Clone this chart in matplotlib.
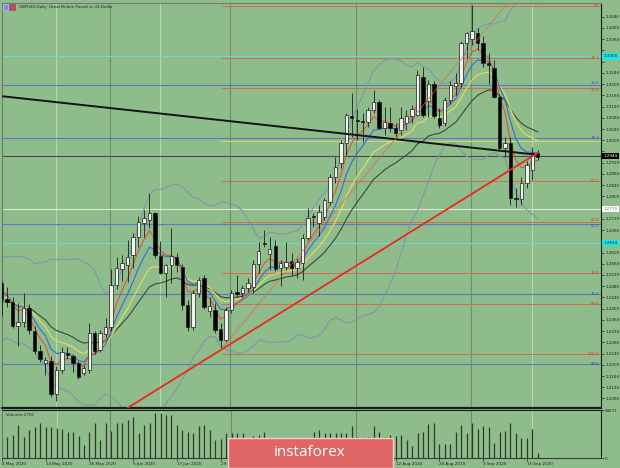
import matplotlib
matplotlib.use("Agg")
import matplotlib.pyplot as plt
import numpy as np
import pandas as pd
from matplotlib.patches import Rectangle
from matplotlib.transforms import blended_transform_factory

# GBPUSD daily, 4 May 2020 .. 17 Sep 2020
open_ = [1.2490, 1.2433, 1.2424, 1.2339, 1.2352, 1.2404, 1.2322, 1.2248, 1.2207, 1.2214,
         1.2096, 1.2182, 1.2241, 1.2230, 1.2207, 1.2172, 1.2180, 1.2315, 1.2253, 1.2310,
         1.2335, 1.2485, 1.2540, 1.2556, 1.2590, 1.2656, 1.2705, 1.2716, 1.2741, 1.2588,
         1.2527, 1.2556, 1.2584, 1.2548, 1.2413, 1.2335, 1.2456, 1.2509, 1.2390, 1.2395,
         1.2328, 1.2289, 1.2395, 1.2460, 1.2456, 1.2474, 1.2478, 1.2560, 1.2634, 1.2595,
         1.2624, 1.2545, 1.2549, 1.2570, 1.2545, 1.2563, 1.2652, 1.2730, 1.2705, 1.2727,
         1.2780, 1.2869, 1.2919, 1.2990, 1.3085, 1.3072, 1.3068, 1.3065, 1.3108, 1.3136,
         1.3044, 1.3061, 1.3044, 1.3035, 1.3061, 1.3086, 1.3090, 1.3226, 1.3140, 1.3200,
         1.3080, 1.3060, 1.3144, 1.3195, 1.3204, 1.3347, 1.3360, 1.3382, 1.3347, 1.3275,
         1.3258, 1.3154, 1.2972, 1.2990, 1.2793, 1.2790, 1.2848, 1.2895, 1.2955]
high = [1.2498, 1.2476, 1.2440, 1.2420, 1.2455, 1.2415, 1.2338, 1.2270, 1.2228, 1.2230,
        1.2195, 1.2262, 1.2262, 1.2240, 1.2215, 1.2200, 1.2350, 1.2320, 1.2325, 1.2367,
        1.2540, 1.2585, 1.2590, 1.2645, 1.2670, 1.2730, 1.2752, 1.2812, 1.2745, 1.2640,
        1.2560, 1.2688, 1.2600, 1.2560, 1.2430, 1.2467, 1.2512, 1.2520, 1.2440, 1.2420,
        1.2350, 1.2405, 1.2467, 1.2520, 1.2485, 1.2510, 1.2573, 1.2638, 1.2680, 1.2655,
        1.2645, 1.2573, 1.2638, 1.2600, 1.2580, 1.2665, 1.2759, 1.2741, 1.2770, 1.2795,
        1.2880, 1.2940, 1.3000, 1.3097, 1.3170, 1.3110, 1.3097, 1.3118, 1.3179, 1.3145,
        1.3118, 1.3118, 1.3060, 1.3118, 1.3107, 1.3125, 1.3250, 1.3262, 1.3215, 1.3210,
        1.3115, 1.3155, 1.3210, 1.3240, 1.3355, 1.3385, 1.3482, 1.3400, 1.3370, 1.3310,
        1.3285, 1.3165, 1.3012, 1.3010, 1.2830, 1.2870, 1.2925, 1.2975, 1.2965]
low = [1.2375, 1.2405, 1.2330, 1.2266, 1.2335, 1.2310, 1.2240, 1.2210, 1.2164, 1.2085,
       1.2072, 1.2171, 1.2220, 1.2175, 1.2150, 1.2165, 1.2172, 1.2240, 1.2245, 1.2300,
       1.2320, 1.2470, 1.2500, 1.2495, 1.2545, 1.2620, 1.2656, 1.2687, 1.2580, 1.2522,
       1.2442, 1.2491, 1.2530, 1.2395, 1.2320, 1.2324, 1.2442, 1.2400, 1.2370, 1.2315,
       1.2252, 1.2280, 1.2385, 1.2442, 1.2442, 1.2460, 1.2456, 1.2527, 1.2620, 1.2538,
       1.2535, 1.2480, 1.2538, 1.2520, 1.2509, 1.2503, 1.2645, 1.2691, 1.2660, 1.2716,
       1.2770, 1.2848, 1.2900, 1.2948, 1.3012, 1.3000, 1.2994, 1.3047, 1.3097, 1.3040,
       1.3019, 1.3030, 1.3010, 1.3019, 1.3035, 1.3060, 1.3086, 1.3083, 1.3083, 1.3080,
       1.3045, 1.3050, 1.3130, 1.3160, 1.3190, 1.3293, 1.3340, 1.3320, 1.3260, 1.3200,
       1.3150, 1.2960, 1.2940, 1.2770, 1.2762, 1.2770, 1.2830, 1.2860, 1.2930]
close = [1.2433, 1.2424, 1.2339, 1.2352, 1.2404, 1.2325, 1.2248, 1.2222, 1.2217, 1.2096,
         1.2182, 1.2246, 1.2236, 1.2207, 1.2155, 1.2190, 1.2315, 1.2250, 1.2312, 1.2335,
         1.2485, 1.2545, 1.2563, 1.2584, 1.2656, 1.2709, 1.2723, 1.2741, 1.2591, 1.2527,
         1.2556, 1.2588, 1.2556, 1.2413, 1.2335, 1.2456, 1.2502, 1.2406, 1.2410, 1.2324,
         1.2289, 1.2395, 1.2456, 1.2452, 1.2474, 1.2490, 1.2560, 1.2605, 1.2630, 1.2613,
         1.2542, 1.2563, 1.2566, 1.2545, 1.2566, 1.2652, 1.2723, 1.2727, 1.2745, 1.2787,
         1.2869, 1.2905, 1.2990, 1.3090, 1.3080, 1.3068, 1.3065, 1.3108, 1.3136, 1.3044,
         1.3065, 1.3044, 1.3026, 1.3080, 1.3086, 1.3111, 1.3233, 1.3090, 1.3200, 1.3086,
         1.3055, 1.3144, 1.3197, 1.3205, 1.3347, 1.3382, 1.3390, 1.3347, 1.3275, 1.3268,
         1.3154, 1.2972, 1.2990, 1.2794, 1.2790, 1.2848, 1.2912, 1.2955, 1.2940]
# April closes, only used to warm up the indicators
warmup_close = [1.2365, 1.2265, 1.2270, 1.2355, 1.2410, 1.2455, 1.2450, 1.2495, 1.2580, 1.2475,
                1.2435, 1.2495, 1.2430, 1.2300, 1.2315, 1.2345, 1.2365, 1.2435, 1.2410, 1.2460,
                1.2590, 1.2490]
volume = [10280, 10790, 11820, 16960, 10790, 14390, 15930, 17990, 15930, 15930,
          15420, 14910, 13360, 13360, 11310, 6680, 13360, 17990, 9250, 17990,
          13880, 17990, 17990, 19530, 21070, 12850, 16960, 17990, 23130, 23130,
          22100, 22100, 16960, 14390, 13360, 12850, 16450, 16960, 14390, 9250,
          9770, 12850, 12850, 12850, 12850, 8740, 11310, 11820, 13360, 9250,
          9770, 8740, 9250, 8220, 7710, 9770, 9770, 13360, 14390, 12850,
          12850, 12850, 12850, 12850, 16450, 10790, 10790, 10790, 16450, 13360,
          10790, 11820, 11310, 11820, 9250, 6170, 12850, 13360, 17480, 17990,
          7200, 7200, 7200, 13360, 16960, 12850, 17990, 14910, 16450, 15930,
          7710, 13360, 13880, 17990, 12850, 10280, 10280, 14910, 2750]
vol_max = 24671

date_labels = ["4 May 2020", "14 May 2020", "26 May 2020", "5 Jun 2020", "17 Jun 2020",
               "29 Jun 2020", "9 Jul 2020", "21 Jul 2020", "31 Jul 2020", "12 Aug 2020",
               "24 Aug 2020", "3 Sep 2020", "15 Sep 2020"]
price_ticks = [round(1.2080 + 0.004 * k, 4) for k in range(35)]

# fibo grid drawn from the 29 Jun low
fib_start = 40
fib_red = [1.3478, 1.3293, 1.3186, 1.2855, 1.2709, 1.2527, 1.2417, 1.2239]
fib_red_labels = ["0.0", "38.2", "23.6", "50.0", "61.8", "76.4", "88.6", "100.0"]
fib_yellow = [1.2998]
fib_blue = [1.3197, 1.3008, 1.2702, 1.2452, 1.2203]
fib_blue_labels = ["23.6", "38.2", "61.8", "76.4", "88.6"]
cyan_levels = [1.3300, 1.2634]
white_levels = [1.2755]
bid = 1.2944

black_trend = [(0, 1.3157), (98, 1.2948)]
red_trend = [(23, 1.2046), (98, 1.2955)]
thin_trend = [(40, 1.2252), (92.5, 1.3489)]
month_start = [20, 42, 65, 86]
markers = [10, 29, 97]

W, H = 620, 468
BG = '#8fbc8b'
n = len(close)
x = np.arange(n)
o = np.array(open_); c = np.array(close); hi = np.array(high); lo = np.array(low)

allc = pd.Series(warmup_close + close)
ema = {p: allc.ewm(span=p, adjust=False).mean().values[-n:] for p in (5, 8, 13, 21)}
mid = allc.rolling(20).mean()
sd = allc.rolling(20).std(ddof=0)
bb_up = (mid + 2 * sd).values[-n:]
bb_dn = (mid - 2 * sd).values[-n:]

fig = plt.figure(figsize=(W / 100, H / 100), dpi=100, facecolor=BG)


def px_axes(x0, y0, x1, y1):
    a = fig.add_axes([x0 / W, 1 - y1 / H, (x1 - x0) / W, (y1 - y0) / H])
    a.set_facecolor(BG)
    return a


ax = px_axes(2, 3, 601, 408)
axv = px_axes(2, 410, 601, 458)
xl = ((2 - 1.7) / 5.47, (601 - 1.7) / 5.47)
for a in (ax, axv):
    a.set_xlim(*xl)
    for m in month_start:
        a.axvline(m - 0.2, color='#6e8f6c', lw=0.8, zorder=0.5)
    for m in markers:
        a.axvline(m, color='#b4d8b0', lw=0.8, zorder=0.5)
ax.set_ylim(1.2046, 1.3489)

# horizontal levels
for p in fib_blue:
    ax.axhline(p, color='#5a78c4', lw=0.8, zorder=1)
for p in cyan_levels:
    ax.axhline(p, color='#6fd8c8', lw=0.8, zorder=1)
for p in white_levels:
    ax.axhline(p, color='#d6ecd2', lw=0.8, zorder=1)
ax.axhline(bid, color='#4a4a4a', lw=0.8, zorder=1)
ax.hlines(fib_red, fib_start, xl[1], color='#d8694e', lw=0.7, zorder=1)
ax.hlines(fib_yellow, fib_start, xl[1], color='#d9d16e', lw=0.7, zorder=1)


def near(p, levels, tol):
    return [q for q in levels if abs(q - p) < tol]


for p, t in zip(fib_red, fib_red_labels):
    close_blue = near(p, fib_blue, 0.0016)
    va = 'center'
    if close_blue:
        va = 'bottom' if p > close_blue[0] else 'top'
    ax.text(109.2, p, t, ha='right', va=va, fontsize=2.8, color='#c8442c', zorder=7)
for p, t in zip(fib_blue, fib_blue_labels):
    close_red = near(p, fib_red, 0.0016)
    va = 'center'
    if close_red:
        va = 'bottom' if p > close_red[0] else 'top'
    ax.text(109.2, p, t, ha='right', va=va, fontsize=2.8, color='#2f4fc0', zorder=7)

# indicators
ax.plot(x, bb_up, color='#7f96ad', lw=0.8, zorder=2)
ax.plot(x, bb_dn, color='#7f96ad', lw=0.8, zorder=2)
ax.plot(x, ema[21], color='#3b4a38', lw=0.8, zorder=2)
ax.plot(x, ema[13], color='#e3df5c', lw=0.8, zorder=2)
ax.plot(x, ema[8], color='#3a6ad6', lw=0.8, zorder=2)
ax.plot(x, ema[5], color='#e0543c', lw=0.8, zorder=2)

# candles
ax.vlines(x, lo, hi, color='#1c1c1c', lw=0.6, zorder=4)
up = c >= o
body_h = np.maximum(np.abs(c - o), 0.0004)
ax.bar(x, body_h, bottom=np.minimum(o, c), width=0.62,
       color=np.where(up, '#eef5ec', '#000000'), edgecolor='#1c1c1c', lw=0.5, zorder=5)

# trend lines
for pts, col, lw, al in ((black_trend, '#141414', 1.4, 1), (red_trend, '#ea2a1e', 1.3, 1),
                         (thin_trend, '#d8694e', 0.7, 0.7)):
    (xa, ya), (xb, yb) = pts
    ax.plot([xa, xb], [ya, yb], color=col, lw=lw, alpha=al, zorder=6)

# right price scale; ticks hidden under the boxed markers
boxed = cyan_levels + white_levels + [bid]
ax.set_xticks([])
ax.yaxis.tick_right()
ax.set_yticks(price_ticks)
ax.set_yticklabels(["" if near(p, boxed, 0.0022) else f"{p:.4f}" for p in price_ticks])
ax.tick_params(axis='y', labelsize=3.0, length=2, width=0.5, pad=1, colors='#1e1e1e')
tr = blended_transform_factory(ax.transAxes, ax.transData)
for p, fc, tc in ((cyan_levels[0], '#1fe6e6', '#1e1e1e'), (cyan_levels[1], '#1fe6e6', '#1e1e1e'),
                  (white_levels[0], '#ffffff', '#808080'), (bid, '#000000', '#ffffff')):
    ax.text(1.004, p, f"{p:.4f}", transform=tr, ha='left', va='center', fontsize=3.0,
            color=tc, clip_on=False, zorder=8,
            bbox=dict(boxstyle='square,pad=0.35', fc=fc, ec='none'))

for s in ('left', 'top'):
    ax.spines[s].set_color('#707a70')
    ax.spines[s].set_linewidth(0.8)
ax.spines['right'].set_color('#1a1a1a')
ax.spines['right'].set_linewidth(0.8)
ax.spines['bottom'].set_color('#1a1a1a')
ax.spines['bottom'].set_linewidth(1.6)

# volumes
axv.vlines(x, 0, volume, color='#2c3a2c', lw=0.9)
axv.set_ylim(0, vol_max)
axv.yaxis.tick_right()
axv.set_yticks([0, vol_max])
axv.set_yticklabels(["0", str(vol_max)])
axv.set_xticks(range(0, n, 8))
axv.set_xticklabels(date_labels, ha='left')
axv.tick_params(labelsize=3.0, length=2, width=0.5, pad=1, colors='#1e1e1e')
axv.text(0.006, 0.93, f"Volumes {volume[-1]}", transform=axv.transAxes, fontsize=2.8,
         va='top', color='#1e1e1e')
axv.spines['top'].set_color('#1a1a1a')
axv.spines['top'].set_linewidth(0.8)
axv.spines['left'].set_color('#707a70')
axv.spines['right'].set_color('#1a1a1a')
axv.spines['bottom'].set_color('#3a3a3a')

# title with tiny flags
fig.add_artist(Rectangle((3 / W, 1 - 10 / H), 5 / W, 6 / H, transform=fig.transFigure,
                         fc='#7d8ee0', ec='#c8c8f0', lw=0.4))
fig.add_artist(Rectangle((9 / W, 1 - 10 / H), 6 / W, 6 / H, transform=fig.transFigure,
                         fc='#d84444', ec='#4050b0', lw=0.4))
fig.text(19 / W, 1 - 7 / H, "GBPUSD,Daily  Great Britain Pound vs US Dollar",
         fontsize=2.8, va='center', color='#1e1e1e')

# watermark
fig.add_artist(Rectangle((228 / W, 0), 165 / W, 30 / H, transform=fig.transFigure,
                         fc='#e06666', ec='#f3cccc', lw=1, zorder=20))
fig.text(310 / W, 1 - 453 / H, "instaforex", fontsize=11, family='Open Sans',
         color='white', ha='center', va='center', zorder=21)

fig.savefig("out.png", dpi=100, facecolor=BG)
